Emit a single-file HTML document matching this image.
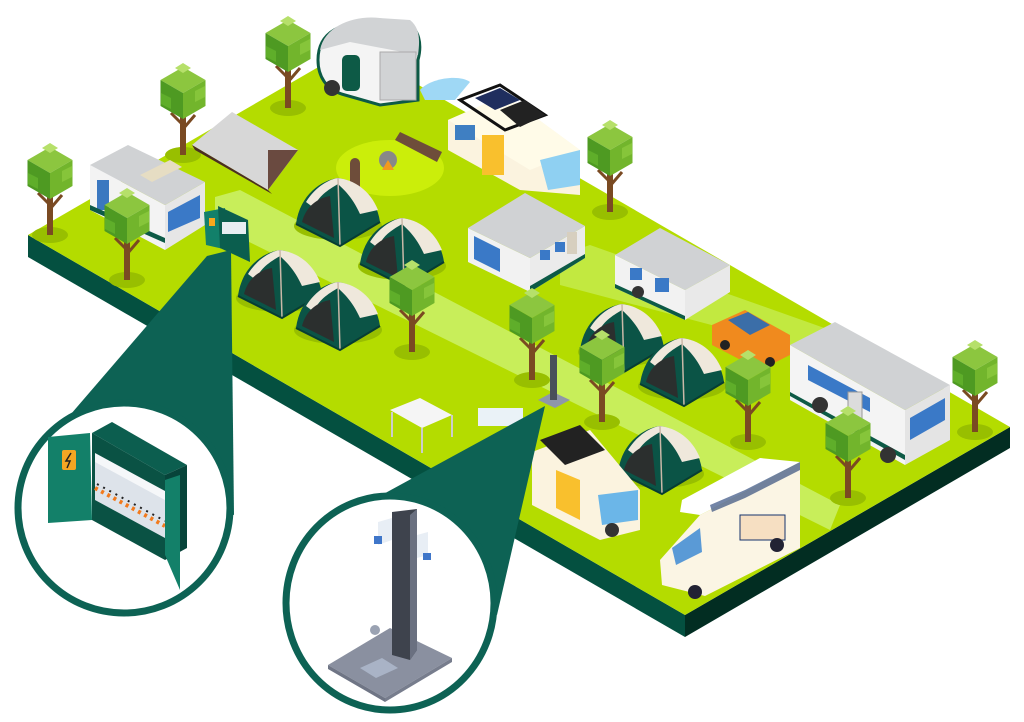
<!DOCTYPE html>
<html><head><meta charset="utf-8"><style>html,body{margin:0;padding:0;background:#fff}svg{display:block}</style></head>
<body>
<svg width="1024" height="722" viewBox="0 0 1024 722" xmlns="http://www.w3.org/2000/svg">
<defs>
<g id="tree">
<ellipse cx="0" cy="0" rx="18" ry="8" fill="#98bf00"/>
<rect x="-3" y="-38" width="6" height="38" fill="#7a4a22"/>
<path d="M0,-30 L-12,-42 M0,-26 L12,-40" stroke="#7a4a22" stroke-width="3"/>
<g transform="translate(0,-62)">
<polygon points="0,-26 22.5,-13 0,0 -22.5,-13" fill="#8cc63f"/>
<polygon points="-22.5,-13 0,0 0,26 -22.5,13" fill="#4e9a22"/>
<polygon points="22.5,-13 0,0 0,26 22.5,13" fill="#72b52c"/>
<polygon points="0,-30 8,-25 0,-20 -8,-25" fill="#b6e06a"/>
<polygon points="-22,0 -12,5 -12,16 -22,11" fill="#5fae2a"/>
<polygon points="12,-2 22,-7 22,4 12,9" fill="#86c53a"/>
</g>
</g>
<g id="tent">
<ellipse cx="0" cy="4" rx="44" ry="14" fill="#98bf00"/>
<path d="M-42,2 C-38,-28 -16,-42 0,-44 C16,-42 38,-28 42,0 L2,24 Z" fill="#0b5446"/>
<path d="M-32,-20 C-22,-36 -8,-43 0,-44 C16,-42 32,-32 40,-12 L22,-8 C14,-26 4,-34 0,-38 C-10,-32 -20,-26 -24,-14 Z" fill="#efe8dc"/>
<path d="M-36,0 C-32,-16 -20,-24 -8,-26 L-4,16 Z" fill="#2b2f2e"/>
<path d="M0,-44 L2,24" stroke="#c9b8a8" stroke-width="1.5"/>
<path d="M-42,2 L2,24 L42,0" stroke="#073d33" stroke-width="2" fill="none"/>
</g>
</defs>

<polygon points="28,235 685,615 685,637 28,257" fill="#045040"/>
<polygon points="685,615 1010,427 1010,448 685,637" fill="#022d22"/>
<polygon points="28,235 353,47 1010,427 685,615" fill="#b4dc00"/>
<polygon points="215,197 240,190 840,505 830,530 215,225" fill="#c8ee5a"/>
<polygon points="560,255 590,245 830,330 825,355 560,285" fill="#c5ec50" opacity="0.8"/>
<ellipse cx="390" cy="168" rx="54" ry="28" fill="#cbee0a"/>
<circle cx="388" cy="160" r="9" fill="#888"/>
<path d="M382,170 l6,-10 l6,10 z" fill="#f39a1d"/>
<rect x="350" y="158" width="10" height="34" rx="5" fill="#6e4d3a"/>
<polygon points="395,140 400,132 442,152 437,162" fill="#6e4d3a"/>

<use href="#tree" x="288" y="108"/>
<use href="#tree" x="183" y="155"/>
<use href="#tree" x="50" y="235"/>
<use href="#tree" x="610" y="212"/>

<path d="M318,60 C318,30 345,22 365,24 L405,22 C420,28 422,45 418,60 L418,100 L380,105 L345,95 C325,90 318,75 318,60 Z" fill="#f4f4f4" stroke="#0d5a46" stroke-width="3"/>
<path d="M320,50 C325,25 355,15 380,18 L410,20 C420,28 420,40 418,55 L350,42 Z" fill="#d1d3d5"/>
<rect x="342" y="55" width="18" height="36" rx="5" fill="#0d5a46"/>
<rect x="380" y="52" width="36" height="48" fill="#d1d3d5" stroke="#aaa"/>
<circle cx="332" cy="88" r="8" fill="#333"/>

<polygon points="192,145 232,112 298,150 268,190" fill="#d7d7d7"/>
<polygon points="192,145 268,190 272,194 195,150" fill="#4a2e22"/>
<polygon points="268,150 298,150 268,190" fill="#6a4a40"/>

<polygon points="448,120 505,95 580,150 580,195 520,190 448,150" fill="#fbf3df"/>
<polygon points="448,120 505,95 580,150 530,170" fill="#fffbe8"/>
<rect x="482" y="135" width="22" height="40" fill="#f9c02d"/>
<polygon points="540,160 580,150 580,185 548,190" fill="#8fd0f2"/>
<polygon points="460,100 500,85 545,115 505,130" fill="none" stroke="#111" stroke-width="3"/>
<polygon points="475,98 500,88 520,100 495,110" fill="#1f2e5e"/>
<polygon points="500,110 525,100 545,115 520,127" fill="#222"/>
<rect x="455" y="125" width="20" height="15" fill="#3f7fc2"/>
<path d="M420,90 C430,78 460,74 470,82 L455,100 L425,100 Z" fill="#9fd8f5"/>

<polygon points="90,165 165,205 165,250 90,210" fill="#f3f3f3"/>
<polygon points="165,205 205,182 205,225 165,250" fill="#e6e6e6"/>
<polygon points="90,165 128,145 205,182 165,205" fill="#d0d2d4"/>
<rect x="97" y="180" width="12" height="30" fill="#3b78c0"/>
<polygon points="168,212 200,195 200,218 168,232" fill="#3a79c7"/>
<polygon points="90,205 165,238 165,243 90,210" fill="#0d5a46"/>
<polygon points="140,175 170,160 182,167 152,182" fill="#e6ddc3"/>
<use href="#tree" x="127" y="280"/>

<polygon points="204,212 225,208 228,250 206,245" fill="#12806a"/>
<polygon points="218,206 248,220 250,262 220,248" fill="#0b5e4e"/>
<rect x="222" y="222" width="24" height="12" fill="#e8eef2"/>
<rect x="209" y="218" width="6" height="8" fill="#f7a71b"/>

<use href="#tent" x="338" y="222"/>
<use href="#tent" x="402" y="262"/>
<use href="#tent" x="280" y="294"/>
<use href="#tent" x="338" y="326"/>

<polygon points="468,228 530,258 530,292 468,262" fill="#f2f2f2"/>
<polygon points="530,258 585,226 585,258 530,292" fill="#ebebeb"/>
<polygon points="468,228 525,193 585,226 530,258" fill="#d0d2d4"/>
<polygon points="474,236 500,249 500,272 474,259" fill="#3a79c7"/>
<rect x="540" y="250" width="10" height="10" fill="#3a79c7"/>
<rect x="555" y="242" width="10" height="10" fill="#3a79c7"/>
<rect x="567" y="232" width="10" height="22" fill="#d7cfbf"/>
<polygon points="530,286 585,254 585,258 530,292" fill="#0d5a46"/>

<polygon points="615,255 685,290 685,320 615,288" fill="#f2f2f2"/>
<polygon points="685,290 730,265 730,292 685,320" fill="#e9e9e9"/>
<polygon points="615,255 660,228 730,265 685,290" fill="#d0d2d4"/>
<rect x="630" y="268" width="12" height="12" fill="#3a79c7"/>
<rect x="655" y="278" width="14" height="14" fill="#3a79c7"/>
<polygon points="615,284 685,316 685,320 615,288" fill="#0d5a46"/>
<circle cx="638" cy="292" r="6" fill="#333"/>

<use href="#tree" x="412" y="352"/>
<use href="#tree" x="532" y="380"/>

<polygon points="712,325 745,310 790,335 790,355 760,370 712,345" fill="#f08a1e"/>
<polygon points="728,320 748,312 770,325 750,335" fill="#3b6ea8"/>
<circle cx="725" cy="345" r="5" fill="#222"/><circle cx="770" cy="362" r="5" fill="#222"/>

<use href="#tent" x="622" y="348"/>
<use href="#tent" x="682" y="382"/>
<use href="#tent" x="660" y="470"/>

<polygon points="790,345 905,410 905,465 790,400" fill="#f4f4f4"/>
<polygon points="905,410 950,385 950,440 905,465" fill="#e4e4e4"/>
<polygon points="790,345 835,322 950,385 905,410" fill="#d0d2d4"/>
<polygon points="808,365 870,398 870,412 808,380" fill="#3a79c7"/>
<rect x="848" y="392" width="14" height="40" fill="#dcdcdc" stroke="#999"/>
<polygon points="910,418 945,398 945,420 910,440" fill="#3a79c7"/>
<polygon points="790,392 905,455 905,460 790,396" fill="#0d5a46"/>
<circle cx="820" cy="405" r="8" fill="#333"/><circle cx="888" cy="455" r="8" fill="#333"/>

<use href="#tree" x="602" y="422"/>
<use href="#tree" x="748" y="442"/>
<use href="#tree" x="848" y="498"/>
<use href="#tree" x="975" y="432"/>

<polygon points="538,400 553,392 570,400 555,408" fill="#8e97a8"/>
<rect x="550" y="355" width="7" height="45" fill="#49505a"/>

<polygon points="390,410 420,398 452,415 422,428" fill="#f5f5f5"/>
<path d="M392,412 l0,25 M422,428 l0,25 M452,415 l0,22" stroke="#ccc" stroke-width="2"/>
<rect x="478" y="408" width="45" height="18" fill="#eaf2f7"/>

<polygon points="532,452 590,430 640,490 640,530 600,540 532,505" fill="#fbf3df"/>
<polygon points="556,470 580,480 580,520 556,508" fill="#f9c02d"/>
<polygon points="598,495 638,490 638,520 602,525" fill="#6bb6e8"/>
<polygon points="540,440 580,425 605,450 565,465" fill="#222"/>
<circle cx="612" cy="530" r="7" fill="#333"/>

<polygon points="660,560 700,515 745,492 800,462 800,548 705,596 662,585" fill="#fbf5e4"/>
<polygon points="682,500 760,458 800,462 745,492 700,515 680,512" fill="#ffffff"/>
<polygon points="710,505 745,490 800,462 800,470 745,498 712,512" fill="#16336c" opacity="0.6"/>
<polygon points="672,548 700,528 702,552 676,565" fill="#5a9ad6"/>
<rect x="740" y="515" width="45" height="25" fill="#f6dfc2" stroke="#16336c"/>
<circle cx="695" cy="592" r="7" fill="#223"/><circle cx="777" cy="545" r="7" fill="#223"/>

<polygon points="207,256 231,250 234,515 40,450" fill="#0d6254"/>
<polygon points="545,406 345,515 497,615" fill="#0d6254"/>

<ellipse cx="124" cy="508" rx="106" ry="105" fill="#fff" stroke="#0d6254" stroke-width="7"/>
<ellipse cx="390" cy="603" rx="104" ry="107" fill="#fff" stroke="#0d6254" stroke-width="7"/>

<polygon points="92,433 112,422 187,465 165,475" fill="#0c5e4f"/>
<polygon points="92,433 165,475 165,560 92,520" fill="#0a5244"/>
<polygon points="165,475 187,465 187,548 165,560" fill="#07443a"/>
<polygon points="95,460 165,498 165,538 95,500" fill="#dde3ea"/>
<polygon points="95,453 165,491 165,500 95,462" fill="#f5f7f9"/>
<path d="M95,488 L165,526" stroke="#f27a1d" stroke-width="4" stroke-dasharray="3,4"/>
<path d="M97,484 L165,521" stroke="#222" stroke-width="2" stroke-dasharray="2,5"/>
<polygon points="165,480 180,475 180,590 165,555" fill="#138069"/>
<polygon points="48,437 90,433 92,520 48,523" fill="#138069"/>
<rect x="62" y="450" width="14" height="20" rx="2" fill="#f5a623"/>
<path d="M71,453 l-5,8 h4 l-3,7" stroke="#222" stroke-width="1.5" fill="none"/>

<polygon points="328,665 390,628 452,658 385,698" fill="#8a90a0"/>
<polygon points="328,665 385,698 385,702 328,669" fill="#6f7585"/>
<polygon points="385,698 452,658 452,662 385,702" fill="#777d8d"/>
<polygon points="360,668 382,658 398,668 376,678" fill="#a9b3c6"/>
<polygon points="392,512 417,509 417,650 410,660 392,655" fill="#3e434d"/>
<polygon points="410,515 417,509 417,650 410,660" fill="#6a7080"/>
<polygon points="378,522 392,518 392,540 378,545" fill="#e8eef5"/>
<rect x="374" y="536" width="8" height="8" fill="#3f76c9"/>
<polygon points="417,535 428,532 428,555 417,558" fill="#e8eef5"/>
<rect x="423" y="553" width="8" height="7" fill="#3f76c9"/>
<circle cx="375" cy="630" r="5" fill="#9aa2b2"/>
</svg>
</body></html>
